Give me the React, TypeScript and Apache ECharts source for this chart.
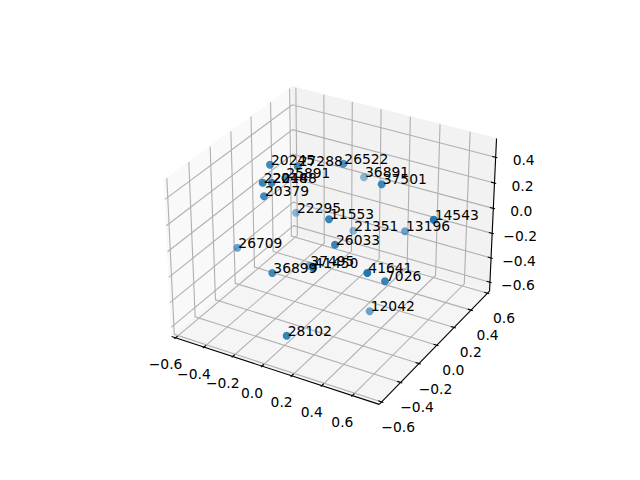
import React, { useEffect, useRef } from "react";
import * as echarts from "echarts";

const FONT = "'DejaVu Sans'";
const BLUE = "#1f77b4";

// Values as they read on the figure's plane (pixels of the 640x480 figure)
const labels = ["20245","27288","25891","22048","22148","20379","26522","36891","37501","22295","11553","21351","13196","14543","26033","26709","36899","37495","41450","41641","7026","12042","28102"];
const planeX = [270,297.7,285.3,262.7,271.7,264,343.3,364,381.7,296,329,353.3,405,433.7,335,237.3,272.3,309.3,313.3,367.3,385,369.7,286.7];
const planeY = [164.7,166.3,178.3,182.7,182.7,196.3,163.7,177.3,184.3,212.7,219.3,230.7,231.3,219.7,244.7,247.7,273,265.7,267.7,273,281.3,311.3,335.7];
const shade = [0.85,0.85,0.8,0.9,0.9,0.85,0.8,0.5,0.85,0.5,0.9,0.5,0.65,1,0.9,0.65,0.85,0.6,1,1,0.9,0.65,0.9];

const tickValues = [-0.6,-0.4,-0.2,0,0.2,0.4,0.6];
const zTickValues = [-0.6,-0.4,-0.2,0,0.2,0.4];
const fmt = (v: number) => (v < 0 ? "\u2212" : "") + Math.abs(v).toFixed(1);

// Axis limits of the cube
const xLim = [-0.6, 0.745];
const yLim = [-0.6, 0.6];
const zLim = [-0.65, 0.52];

// matplotlib mplot3d camera: elev 30, azim -60, dist 10, box 4:4:3
const pad = (l: number[]) => { const d = (l[1] - l[0]) / 48; return [l[0] - d, l[1] + d]; };
const X = pad(xLim), Y = pad(yLim), Z = pad(zLim);
const scale = 1.8294640721620434 / Math.sqrt(41);
const box = [4 * scale, 4 * scale, 3 * scale];
const el = Math.PI / 6, az = -Math.PI / 3;
const w = [Math.cos(el) * Math.cos(az), Math.cos(el) * Math.sin(az), Math.sin(el)];
const u = [-w[1], w[0], 0].map((v) => v / Math.hypot(w[0], w[1]));
const v3 = [w[1] * u[2] - w[2] * u[1], w[2] * u[0] - w[0] * u[2], w[0] * u[1] - w[1] * u[0]];
const dot = (a: number[], b: number[]) => a[0] * b[0] + a[1] * b[1] + a[2] * b[2];
const norm = (v: number, l: number[]) => (v - (l[0] + l[1]) / 2) / (l[1] - l[0]);
function project(x: number, y: number, z: number): number[] {
  const p = [norm(x, xLim) * box[0], norm(y, yLim) * box[1], norm(z, zLim) * box[2]];
  const d = 10 - dot(p, w);
  return [333.5 + (dot(p, u) / d) * 1998, 237.9 - (dot(p, v3) / d) * 1998];
}
const poly = (pts: number[][]) => pts.map((p) => project(p[0], p[1], p[2]));

const panes = [
  { color: "#f9f9f9", pts: poly([[X[0],Y[0],Z[0]],[X[0],Y[1],Z[0]],[X[0],Y[1],Z[1]],[X[0],Y[0],Z[1]]]) },
  { color: "#f2f2f2", pts: poly([[X[0],Y[1],Z[0]],[X[1],Y[1],Z[0]],[X[1],Y[1],Z[1]],[X[0],Y[1],Z[1]]]) },
  { color: "#f5f5f5", pts: poly([[X[0],Y[0],Z[0]],[X[1],Y[0],Z[0]],[X[1],Y[1],Z[0]],[X[0],Y[1],Z[0]]]) },
];
const grids: number[][][] = [];
tickValues.forEach((t) => {
  grids.push(poly([[t,Y[0],Z[0]],[t,Y[1],Z[0]],[t,Y[1],Z[1]]]));
  grids.push(poly([[X[1],t,Z[0]],[X[0],t,Z[0]],[X[0],t,Z[1]]]));
});
zTickValues.forEach((t) => {
  grids.push(poly([[X[0],Y[0],t],[X[0],Y[1],t],[X[1],Y[1],t]]));
});
const axisLines = [
  poly([[X[0],Y[0],Z[0]],[X[1],Y[0],Z[0]]]),
  poly([[X[1],Y[0],Z[0]],[X[1],Y[1],Z[0]]]),
  poly([[X[1],Y[1],Z[0]],[X[1],Y[1],Z[1]]]),
];
const dY = (Y[1] - Y[0]) / 12 / (1 + 1 / 24), dX = (X[1] - X[0]) / 12 / (1 + 1 / 24);
const tickMarks: number[][][] = [];
const tickTexts: { p: number[]; s: string }[] = [];
tickValues.forEach((t) => {
  tickMarks.push(poly([[t,Y[0]-0.1*dY,Z[0]],[t,Y[0]+0.2*dY,Z[0]]]));
  const a = project(t, Y[0], Z[0]);
  tickTexts.push({ p: [a[0] - 10, a[1] + 26.5], s: fmt(t) });
  tickMarks.push(poly([[X[1]+0.1*dX,t,Z[0]],[X[1]-0.2*dX,t,Z[0]]]));
  const b = project(X[1], t, Z[0]);
  tickTexts.push({ p: [b[0] + 16.5, b[1] + 25], s: fmt(t) });
});
zTickValues.forEach((t) => {
  tickMarks.push(poly([[X[1]+0.1*dX,Y[1],t],[X[1]-0.2*dX,Y[1],t]]));
  const c = project(X[1], Y[1], t);
  tickTexts.push({ p: [c[0] + 28, c[1] + 3], s: fmt(t) });
});

export default function App() {
  const ref = useRef<HTMLDivElement>(null);
  useEffect(() => {
    const chart = echarts.init(ref.current!, undefined, { renderer: "svg" });
    const line = (pts: number[][], api: any, stroke: string) => ({
      type: "polyline",
      shape: { points: pts.map((p) => api.coord(p)) },
      style: { stroke, lineWidth: 1.11, fill: "none" },
      silent: true,
    });
    chart.setOption({
      animation: false,
      backgroundColor: "#fff",
      grid: { left: 0, right: 0, top: 0, bottom: 0 },
      xAxis: { type: "value", min: 0, max: 640, show: false },
      yAxis: { type: "value", min: 0, max: 480, inverse: true, show: false },
      series: [
        {
          type: "custom", coordinateSystem: "cartesian2d", z: 1, silent: true, clip: false,
          data: [[0, 0]],
          renderItem: (_p: any, api: any) => ({
            type: "group",
            children: [
              ...panes.map((g) => ({
                type: "polygon",
                shape: { points: g.pts.map((p) => api.coord(p)) },
                style: { fill: g.color, stroke: g.color, lineWidth: 1 },
              })),
              ...grids.map((g) => line(g, api, "#b0b0b0")),
              ...axisLines.map((g) => line(g, api, "#000")),
              ...tickMarks.map((g) => line(g, api, "#000")),
              ...tickTexts.map((t) => {
                const c = api.coord(t.p);
                return {
                  type: "text", x: c[0], y: c[1],
                  style: { text: t.s, fontFamily: FONT, fontSize: 13.89, fill: "#000", align: "center", verticalAlign: "middle" },
                };
              }),
            ],
          }),
        },
        {
          type: "scatter", z: 2, silent: true,
          symbolSize: 8,
          data: planeX.map((x, i) => ({ value: [x, planeY[i]], itemStyle: { color: BLUE, opacity: shade[i] } })),
        },
        {
          type: "custom", coordinateSystem: "cartesian2d", z: 3, silent: true, clip: false,
          data: planeX.map((x, i) => [x, planeY[i], i]),
          renderItem: (_p: any, api: any) => {
            const i = api.value(2);
            const c = api.coord([api.value(0), api.value(1)]);
            return {
              type: "text", x: c[0] + 1, y: c[1] + 1.8,
              style: { text: labels[i], fontFamily: FONT, fontSize: 13.89, fill: "#000", align: "left", verticalAlign: "bottom" },
            };
          },
        },
      ],
    });
    return () => chart.dispose();
  }, []);
  return <div ref={ref} style={{ width: 640, height: 480, position: "fixed", left: 0, top: 0 }} />;
}
